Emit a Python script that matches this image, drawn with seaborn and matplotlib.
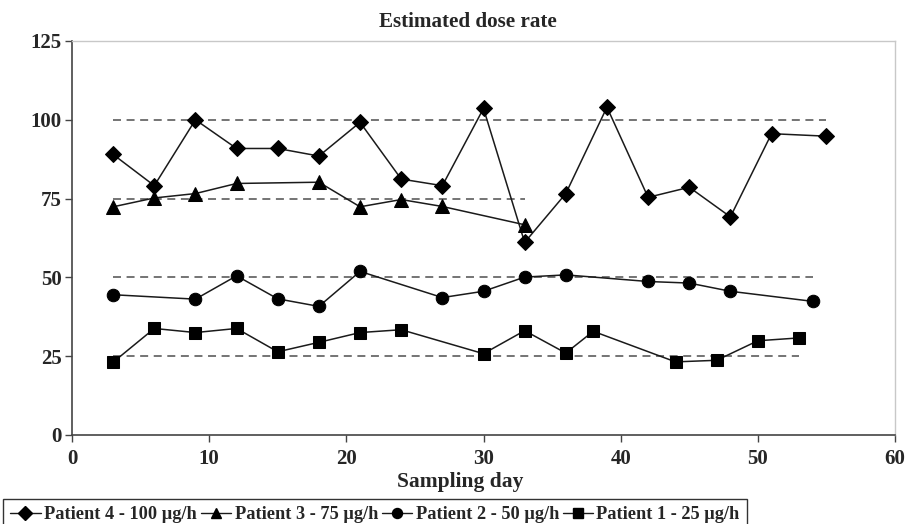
import matplotlib
matplotlib.use("Agg")
import matplotlib.pyplot as plt
import seaborn as sns
import pandas as pd
from matplotlib.lines import Line2D

# ---- data ----
p4_days = [3, 6, 9, 12, 15, 18, 21, 24, 27, 30, 33, 36, 39, 42, 45, 48, 51, 55]
p4_vals = [89.0, 79.1, 100.0, 90.9, 90.9, 88.5, 99.2, 81.2, 79.1, 103.6, 61.1, 76.6, 104.0, 75.4, 78.6, 69.2, 95.6, 94.8]

p3_days = [3, 6, 9, 12, 18, 21, 24, 27, 33]
p3_vals = [72.4, 75.2, 76.6, 79.8, 80.2, 72.4, 74.7, 72.5, 66.7]

p2_days = [3, 9, 12, 15, 18, 21, 27, 30, 33, 36, 42, 45, 48, 54]
p2_vals = [44.5, 43.1, 50.5, 43.2, 40.8, 51.9, 43.6, 45.6, 50.1, 50.8, 48.7, 48.2, 45.6, 42.4]

p1_days = [3, 6, 9, 12, 15, 18, 21, 24, 30, 33, 36, 38, 44, 47, 50, 53]
p1_vals = [23.1, 33.8, 32.5, 33.8, 26.4, 29.4, 32.5, 33.4, 25.8, 33.1, 26.0, 32.9, 23.2, 23.7, 29.9, 30.8]

series_labels = ["Patient 4 - 100 µg/h", "Patient 3 - 75 µg/h",
                 "Patient 2 - 50 µg/h", "Patient 1 - 25 µg/h"]

ref_levels = [100, 75, 50, 25]
ref_start = [3, 3, 3, 3]
ref_end = [55, 33, 54, 53]

x_ticks = [0, 10, 20, 30, 40, 50, 60]
y_ticks = [0, 25, 50, 75, 100, 125]

# ---- style ----
sns.set_style("white")
plt.rcParams['font.family'] = ['Liberation Serif', 'DejaVu Serif']
plt.rcParams['font.weight'] = 'bold'

fig = plt.figure(figsize=(9.09, 5.24), dpi=100)
ax = fig.add_axes([72 / 909, 89 / 524, (895 - 72) / 909, (435 - 41) / 524])

line_col = "#1a1a1a"
dash_col = "#555555"

# reference dashed lines
for lvl, s, e in zip(ref_levels, ref_start, ref_end):
    ax.hlines(lvl, s, e, colors=dash_col, linestyles=(0, (5, 3.5)), linewidth=1.15, zorder=1)

specs = [
    (p4_days, p4_vals, "D", 8.3),
    (p3_days, p3_vals, "^", 9.5),
    (p2_days, p2_vals, "o", 9.0),
    (p1_days, p1_vals, "s", 8.5),
]
handles = []
for (d, v, m, ms), lab in zip(specs, series_labels):
    df = pd.DataFrame({"day": d, "val": v})
    sns.lineplot(data=df, x="day", y="val", ax=ax, color=line_col, linewidth=1.1,
                 marker=m, markersize=ms, markeredgecolor="black",
                 markerfacecolor="black", zorder=3, legend=False)
    handles.append(Line2D([0], [0], color=line_col, linewidth=1.0, marker=m,
                          markersize=ms * 0.8, markerfacecolor="black",
                          markeredgecolor="black"))

ax.set_xlim(0, 60)
ax.set_ylim(0, 125)
ax.set_xticks(x_ticks)
ax.set_yticks(y_ticks)
ax.set_xticklabels([str(t) for t in x_ticks], fontsize=15, fontweight='bold')
ax.set_yticklabels([str(t) for t in y_ticks], fontsize=15, fontweight='bold')
ax.tick_params(axis='both', direction='out', length=5, width=1, color="#444444",
               left=True, bottom=True)
ax.tick_params(axis='x', pad=5)
ax.tick_params(axis='y', pad=2.5)
ax.set_xlabel("")
ax.set_ylabel("")

for side in ["left", "bottom"]:
    ax.spines[side].set_color("#444444")
    ax.spines[side].set_linewidth(1.2)
for side in ["right", "top"]:
    ax.spines[side].set_color("#c8c8c8")
    ax.spines[side].set_linewidth(1.0)

fig.text(468 / 909, 1 - 22 / 524, "Estimated dose rate", ha="center", va="center",
         fontsize=15.2, fontweight="bold")
fig.text(460 / 909, 1 - 482 / 524, "Sampling day", ha="center", va="center",
         fontsize=15.5, fontweight="bold")

leg = fig.legend(handles, series_labels, loc="upper left",
                 bbox_to_anchor=(3 / 909, 1 - 499 / 524), ncol=4,
                 fontsize=13.2, frameon=True, fancybox=False, shadow=False,
                 borderpad=0.4, handlelength=1.65, handletextpad=0.2,
                 columnspacing=0.2, borderaxespad=0.0)
leg.get_frame().set_edgecolor("black")
leg.get_frame().set_linewidth(1.0)
for t in leg.get_texts():
    t.set_fontweight("bold")

fig.savefig("out.png", dpi=100, facecolor="white")
